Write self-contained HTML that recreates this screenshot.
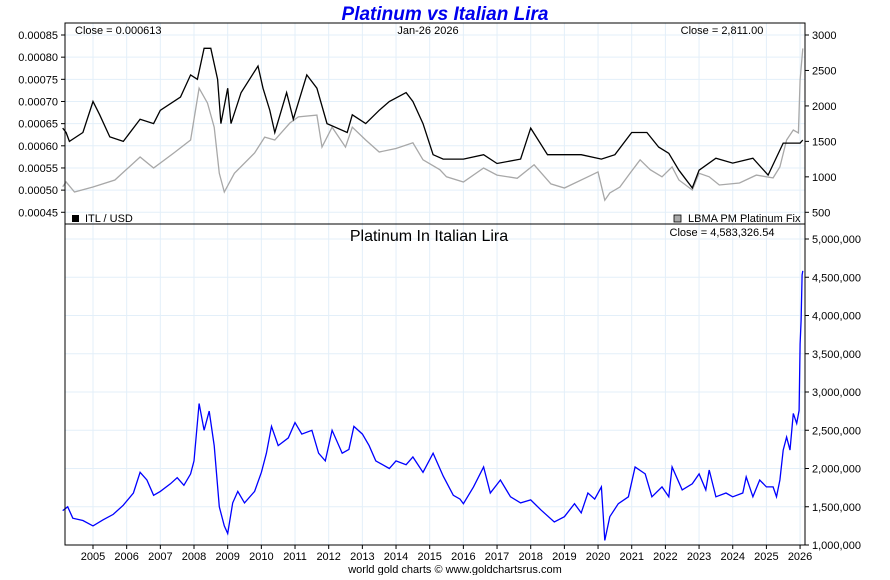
<!DOCTYPE html>
<html><head><meta charset="utf-8"><style>
body{margin:0;background:#fff;width:890px;height:575px;overflow:hidden;font-family:"Liberation Sans",sans-serif}
svg text{font-family:"Liberation Sans",sans-serif}
</style></head><body>
<svg id="c" width="890" height="575" xmlns="http://www.w3.org/2000/svg">
<text x="445" y="20" text-anchor="middle" font-size="19" font-weight="bold" font-style="italic" fill="#0000ee">Platinum vs Italian Lira</text>
<g id="grid"></g>
<g id="axes"></g>
<g id="series"></g>
<rect x="65" y="23" width="740" height="201" fill="none" stroke="#000"/>
<rect x="65" y="224" width="740" height="321" fill="none" stroke="#000"/>
<text x="75" y="34" font-size="11">Close = 0.000613</text>
<text x="428" y="34" text-anchor="middle" font-size="11">Jan-26  2026</text>
<text x="722" y="34" text-anchor="middle" font-size="11">Close = 2,811.00</text>
<rect x="72" y="215" width="7" height="7" fill="#000"/>
<text x="85" y="222" font-size="11">ITL / USD</text>
<rect x="674" y="215" width="7" height="7" fill="#aaa" stroke="#000" stroke-width="0.8"/>
<text x="688" y="222" font-size="11">LBMA PM Platinum Fix</text>
<text x="429" y="241" text-anchor="middle" font-size="16">Platinum In Italian Lira</text>
<text x="722" y="236" text-anchor="middle" font-size="11">Close = 4,583,326.54</text>
<text x="455" y="573" text-anchor="middle" font-size="11">world gold charts © www.goldchartsrus.com</text>
</svg>
<script>
const itlYears=[2004.1,2004.2,2004.3,2004.7,2005.0,2005.2,2005.5,2005.9,2006.4,2006.8,2007.0,2007.6,2007.9,2008.1,2008.3,2008.5,2008.7,2008.8,2009.0,2009.1,2009.4,2009.9,2010.05,2010.25,2010.4,2010.75,2010.95,2011.35,2011.65,2011.95,2012.55,2012.7,2013.1,2013.5,2013.8,2014.3,2014.5,2014.8,2015.1,2015.4,2016.0,2016.6,2017.0,2017.7,2018.0,2018.5,2019.0,2019.5,2020.1,2020.5,2021.0,2021.45,2021.8,2022.1,2022.4,2022.8,2023.0,2023.5,2024.0,2024.6,2025.05,2025.5,2026.0,2026.08];
const itlValues=[0.00064,0.00063,0.00061,0.00063,0.00070,0.00067,0.00062,0.00061,0.00066,0.00065,0.00068,0.00071,0.00076,0.00075,0.00082,0.00082,0.00075,0.00065,0.00073,0.00065,0.00072,0.00078,0.00073,0.00068,0.00063,0.00072,0.00066,0.00076,0.00073,0.00065,0.00063,0.00067,0.00065,0.00068,0.00070,0.00072,0.00070,0.00065,0.00058,0.00057,0.00057,0.00058,0.00056,0.00057,0.00064,0.00058,0.00058,0.00058,0.00057,0.00058,0.00063,0.00063,0.000597,0.000583,0.000545,0.000505,0.000545,0.000572,0.000561,0.000572,0.000534,0.000606,0.000606,0.000613];
const ptYears=[2004.1,2004.2,2004.45,2005.0,2005.65,2006.4,2006.8,2007.4,2007.9,2008.15,2008.4,2008.6,2008.75,2008.9,2009.2,2009.8,2010.1,2010.4,2010.85,2011.1,2011.65,2011.8,2012.1,2012.5,2012.7,2013.1,2013.5,2014.0,2014.5,2014.8,2015.3,2015.5,2016.0,2016.6,2017.0,2017.6,2018.1,2018.6,2019.0,2019.7,2020.0,2020.2,2020.35,2020.65,2020.95,2021.25,2021.55,2021.9,2022.2,2022.4,2022.8,2023.0,2023.3,2023.6,2024.2,2024.7,2025.2,2025.4,2025.6,2025.8,2025.95,2026.0,2026.08];
const ptValues=[860,927,786,857,955,1280,1125,1336,1520,2250,2040,1700,1050,786,1050,1336,1560,1520,1760,1845,1870,1420,1700,1420,1700,1520,1350,1400,1480,1240,1100,1000,927,1125,1025,980,1170,900,843,1000,1070,670,772,857,1050,1240,1100,1000,1140,955,815,1050,1000,885,913,1025,985,1140,1520,1660,1620,2365,2811];
const ptItlYears=[2004.1,2004.25,2004.4,2004.7,2005.0,2005.3,2005.6,2005.9,2006.2,2006.4,2006.6,2006.8,2007.0,2007.3,2007.5,2007.7,2007.9,2008.0,2008.15,2008.3,2008.45,2008.6,2008.75,2008.9,2009.0,2009.15,2009.3,2009.5,2009.8,2010.0,2010.15,2010.3,2010.5,2010.8,2011.0,2011.2,2011.5,2011.7,2011.9,2012.1,2012.4,2012.6,2012.75,2013.0,2013.2,2013.4,2013.6,2013.8,2014.0,2014.3,2014.5,2014.8,2015.1,2015.4,2015.7,2015.9,2016.0,2016.3,2016.6,2016.8,2017.1,2017.4,2017.7,2018.0,2018.3,2018.7,2019.0,2019.3,2019.5,2019.7,2019.9,2020.1,2020.2,2020.35,2020.6,2020.9,2021.1,2021.4,2021.6,2021.9,2022.1,2022.2,2022.5,2022.8,2023.0,2023.2,2023.3,2023.5,2023.8,2024.0,2024.3,2024.4,2024.6,2024.8,2025.0,2025.2,2025.3,2025.4,2025.5,2025.6,2025.7,2025.8,2025.9,2025.97,2026.0,2026.03,2026.06,2026.08];
const ptItlValues=[1.45,1.5,1.35,1.32,1.25,1.33,1.4,1.52,1.68,1.95,1.85,1.65,1.7,1.8,1.88,1.78,1.93,2.1,2.85,2.5,2.75,2.3,1.5,1.25,1.15,1.55,1.7,1.55,1.7,1.95,2.2,2.55,2.3,2.4,2.6,2.45,2.5,2.2,2.1,2.5,2.2,2.25,2.55,2.45,2.3,2.1,2.05,2.0,2.1,2.05,2.15,1.95,2.2,1.9,1.65,1.6,1.54,1.76,2.02,1.68,1.85,1.63,1.55,1.59,1.46,1.3,1.37,1.54,1.42,1.68,1.6,1.76,1.06,1.37,1.54,1.63,2.02,1.93,1.63,1.76,1.63,2.02,1.72,1.8,1.93,1.72,1.98,1.63,1.68,1.63,1.68,1.89,1.63,1.85,1.76,1.76,1.63,1.85,2.24,2.41,2.24,2.72,2.59,2.76,3.63,3.93,4.53,4.583];
const yearTicks=[2005,2006,2007,2008,2009,2010,2011,2012,2013,2014,2015,2016,2017,2018,2019,2020,2021,2022,2023,2024,2025,2026];
const itlTicks=[0.00045,0.0005,0.00055,0.0006,0.00065,0.0007,0.00075,0.0008,0.00085];
const ptTicks=[500,1000,1500,2000,2500,3000];
const ptItlTicks=[1,1.5,2,2.5,3,3.5,4,4.5,5];

const NS='http://www.w3.org/2000/svg';
const X=y=>93+(y-2005)*33.67;
const Yitl=v=>35+(0.00085-v)/0.00005*22.16;
const Ypt=v=>35+(3000-v)/500*35.46;
const Ybot=v=>545-(v-1)/0.5*38.25;
function mk(tag,at,parent){const e=document.createElementNS(NS,tag);for(const k in at)e.setAttribute(k,at[k]);document.getElementById(parent).appendChild(e);return e;}
yearTicks.forEach(y=>{
 const l=mk('line',{x1:X(y),x2:X(y),y1:23,y2:545,stroke:'#e3eff9'},'grid');
 
 
 const t=mk('line',{x1:X(y),x2:X(y),y1:545,y2:549,stroke:'#000'},'axes');
 
 
 const tx=mk('text',{x:X(y),y:560,'text-anchor':'middle','font-size':11},'axes');tx.textContent=y;
 
 
});
itlTicks.forEach(v=>{
 const y=Yitl(v);
 const l=mk('line',{x1:65,x2:805,y1:y,y2:y,stroke:'#e3eff9'},'grid');
 
 
 const t=mk('line',{x1:61,x2:65,y1:y,y2:y,stroke:'#000'},'axes');
 
 
 const tx=mk('text',{x:58,y:y+4,'text-anchor':'end','font-size':11},'axes');tx.textContent=v.toFixed(5);
 
 
});
ptTicks.forEach(v=>{
 const y=Ypt(v);
 const t=mk('line',{x1:805,x2:809,y1:y,y2:y,stroke:'#000'},'axes');
 
 
 const tx=mk('text',{x:812,y:y+4,'font-size':11},'axes');tx.textContent=v;
 
 
});
ptItlTicks.forEach(v=>{
 const y=Ybot(v);
 const l=mk('line',{x1:65,x2:805,y1:y,y2:y,stroke:'#e3eff9'},'grid');
 
 
 const t=mk('line',{x1:805,x2:809,y1:y,y2:y,stroke:'#000'},'axes');
 
 
 const tx=mk('text',{x:812,y:y+4,'font-size':11},'axes');tx.textContent=(v*1e6).toLocaleString('en-US');
 
 
});
function path(xs,vs,fy){return xs.map((x,i)=>(i?'L':'M')+X(x).toFixed(1)+','+fy(vs[i]).toFixed(1)).join('');}
const p1=mk('path',{d:path(ptYears,ptValues,Ypt),fill:'none',stroke:'#a8a8a8','stroke-width':1.3},'series');


const p2=mk('path',{d:path(itlYears,itlValues,Yitl),fill:'none',stroke:'#000','stroke-width':1.3},'series');


const p3=mk('path',{d:path(ptItlYears,ptItlValues,Ybot),fill:'none',stroke:'#0000ff','stroke-width':1.3},'series');


</script>
</body></html>
